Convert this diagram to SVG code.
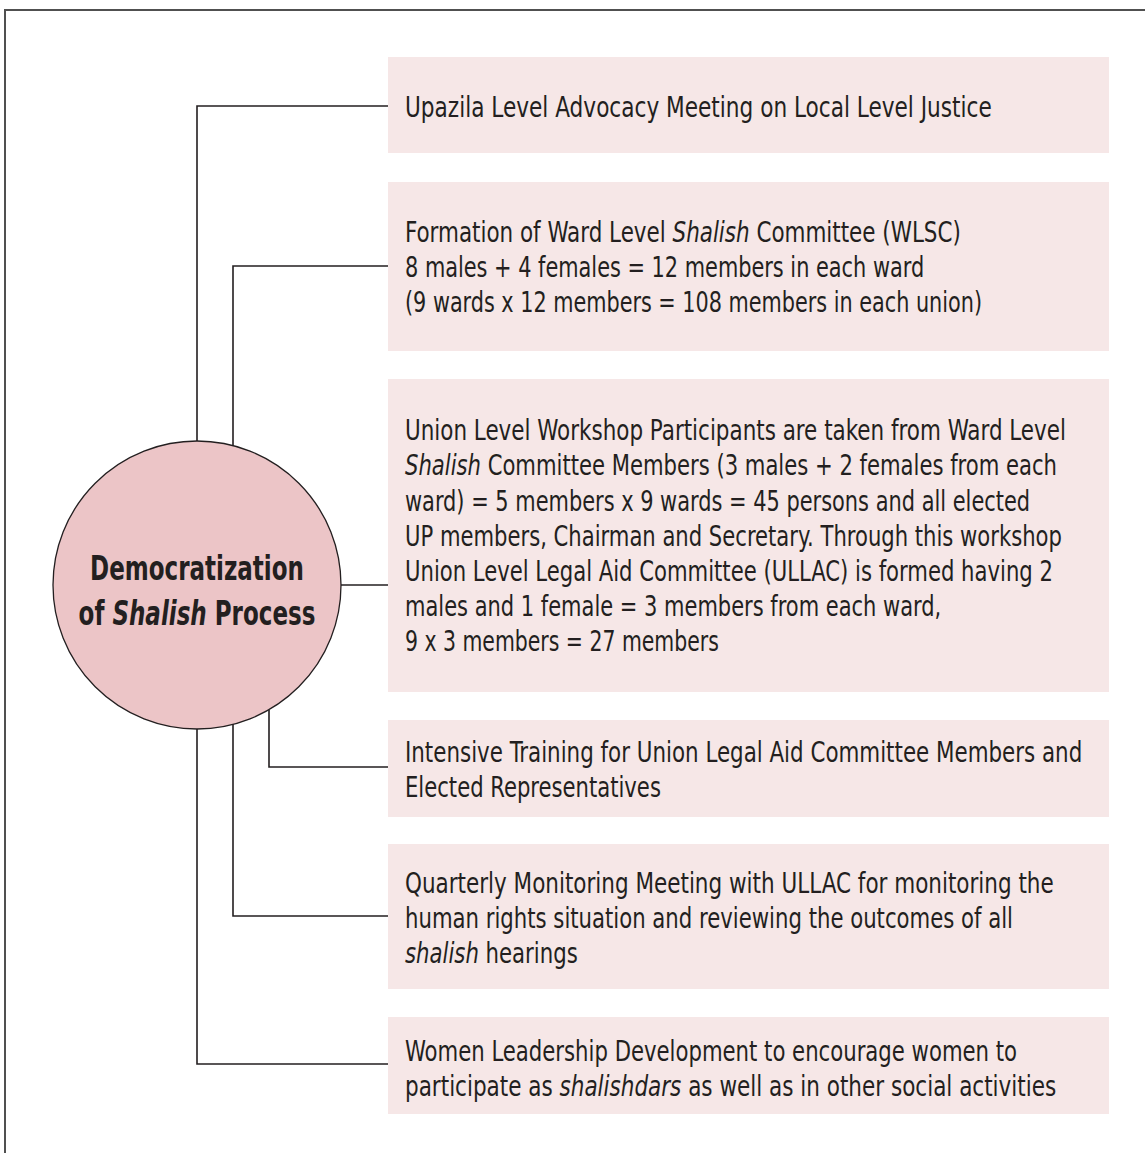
<svg xmlns="http://www.w3.org/2000/svg" width="1145" height="1153" viewBox="0 0 1145 1153">
<style>
.frame{fill:none;stroke:#505050;stroke-width:2}
.box{fill:#f6e7e7}
.conn{fill:none;stroke:#231f20;stroke-width:1.6}
.hub{fill:#ecc5c7;stroke:#231f20;stroke-width:1.3}
.t{font-family:"Liberation Sans Narrow","DejaVu Sans Condensed","Liberation Sans",sans-serif;font-size:29px;fill:#231f20}
.h{font-family:"Liberation Sans Narrow","DejaVu Sans Condensed","Liberation Sans",sans-serif;font-size:33px;font-weight:bold;fill:#231f20;text-anchor:middle}
.i{font-style:italic}
</style>
<rect class="frame" x="5" y="10" width="1160" height="1160"/>
<g id="connectors">
<polyline class="conn" points="197,441 197,106 388,106"/>
<polyline class="conn" points="233,446 233,266 388,266"/>
<line class="conn" x1="341" y1="585" x2="388" y2="585"/>
<polyline class="conn" points="269,710 269,767 388,767"/>
<polyline class="conn" points="233,724 233,916 388,916"/>
<polyline class="conn" points="197,729 197,1064 388,1064"/>
</g>
<g id="hub">
<circle class="hub" cx="197" cy="585" r="144"/>
<g transform="translate(197 0) scale(0.775 1) translate(-197 0)">
<text class="h" x="197" y="580">Democratization</text>
<text class="h" x="197" y="625">of <tspan class="i">Shalish</tspan> Process</text>
</g>
</g>
<g id="node1">
<rect class="box" x="388" y="57" width="721" height="96"/>
<g transform="translate(405 0) scale(0.815 1) translate(-405 0)">
<text class="t" x="405" y="117" textLength="720" lengthAdjust="spacingAndGlyphs">Upazila Level Advocacy Meeting on Local Level Justice</text>
</g>
</g>
<g id="node2">
<rect class="box" x="388" y="182" width="721" height="169"/>
<g transform="translate(405 0) scale(0.815 1) translate(-405 0)">
<text class="t" x="405" y="242" textLength="682" lengthAdjust="spacingAndGlyphs">Formation of Ward Level <tspan class="i">Shalish</tspan> Committee (WLSC)</text>
<text class="t" x="405" y="277" textLength="637" lengthAdjust="spacingAndGlyphs">8 males + 4 females = 12 members in each ward</text>
<text class="t" x="405" y="312" textLength="708" lengthAdjust="spacingAndGlyphs">(9 wards x 12 members = 108 members in each union)</text>
</g>
</g>
<g id="node3">
<rect class="box" x="388" y="379" width="721" height="313"/>
<g transform="translate(405 0) scale(0.815 1) translate(-405 0)">
<text class="t" x="405" y="440" textLength="811" lengthAdjust="spacingAndGlyphs">Union Level Workshop Participants are taken from Ward Level</text>
<text class="t" x="405" y="475" textLength="800" lengthAdjust="spacingAndGlyphs"><tspan class="i">Shalish</tspan> Committee Members (3 males + 2 females from each</text>
<text class="t" x="405" y="511" textLength="767" lengthAdjust="spacingAndGlyphs">ward) = 5 members x 9 wards = 45 persons and all elected</text>
<text class="t" x="405" y="546" textLength="806" lengthAdjust="spacingAndGlyphs">UP members, Chairman and Secretary. Through this workshop</text>
<text class="t" x="405" y="581" textLength="795" lengthAdjust="spacingAndGlyphs">Union Level Legal Aid Committee (ULLAC) is formed having 2</text>
<text class="t" x="405" y="616" textLength="658" lengthAdjust="spacingAndGlyphs">males and 1 female = 3 members from each ward,</text>
<text class="t" x="405" y="651" textLength="385" lengthAdjust="spacingAndGlyphs">9 x 3 members = 27 members</text>
</g>
</g>
<g id="node4">
<rect class="box" x="388" y="720" width="721" height="97"/>
<g transform="translate(405 0) scale(0.815 1) translate(-405 0)">
<text class="t" x="405" y="762" textLength="831" lengthAdjust="spacingAndGlyphs">Intensive Training for Union Legal Aid Committee Members and</text>
<text class="t" x="405" y="797" textLength="314" lengthAdjust="spacingAndGlyphs">Elected Representatives</text>
</g>
</g>
<g id="node5">
<rect class="box" x="388" y="844" width="721" height="145"/>
<g transform="translate(405 0) scale(0.815 1) translate(-405 0)">
<text class="t" x="405" y="893" textLength="796" lengthAdjust="spacingAndGlyphs">Quarterly Monitoring Meeting with ULLAC for monitoring the</text>
<text class="t" x="405" y="928" textLength="746" lengthAdjust="spacingAndGlyphs">human rights situation and reviewing the outcomes of all</text>
<text class="t" x="405" y="963" textLength="212" lengthAdjust="spacingAndGlyphs"><tspan class="i">shalish</tspan> hearings</text>
</g>
</g>
<g id="node6">
<rect class="box" x="388" y="1017" width="721" height="97"/>
<g transform="translate(405 0) scale(0.815 1) translate(-405 0)">
<text class="t" x="405" y="1061" textLength="751" lengthAdjust="spacingAndGlyphs">Women Leadership Development to encourage women to</text>
<text class="t" x="405" y="1096" textLength="799" lengthAdjust="spacingAndGlyphs">participate as <tspan class="i">shalishdars</tspan> as well as in other social activities</text>
</g>
</g>
</svg>
